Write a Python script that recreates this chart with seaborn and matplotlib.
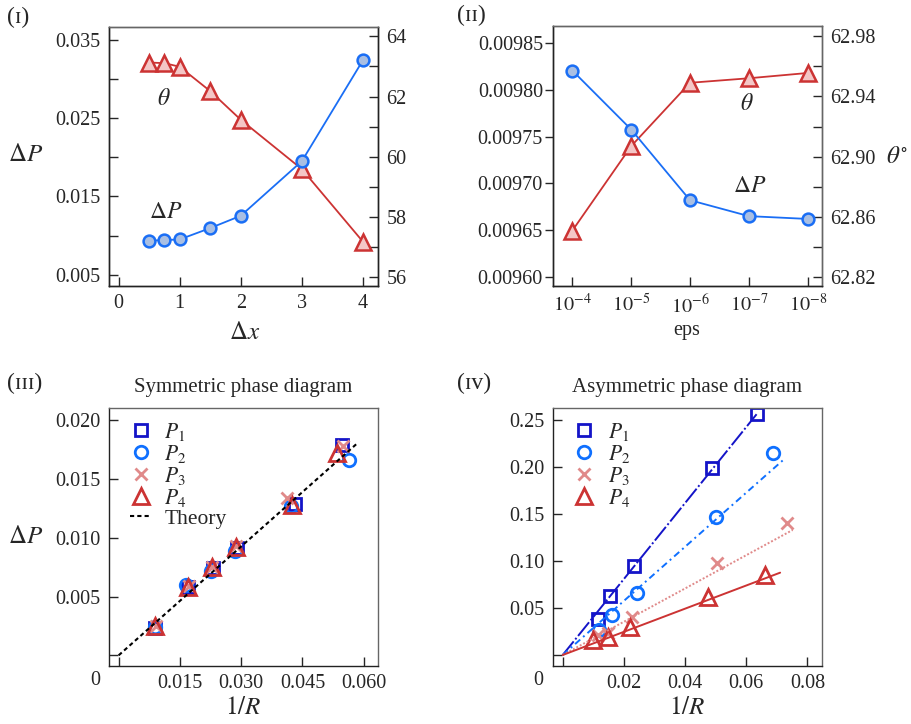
import numpy as np
import matplotlib
matplotlib.use('Agg')
import matplotlib.pyplot as plt
from matplotlib.ticker import FixedLocator, NullLocator, FixedFormatter, FormatStrFormatter
import seaborn as sns

sns.set_style('ticks')
plt.rcParams['font.family'] = ['Liberation Serif', 'DejaVu Serif']
plt.rcParams['mathtext.fontset'] = 'stix'
plt.rcParams['axes.unicode_minus'] = True

# ---- data ----
# (I) grid spacing
dx = [0.5, 0.75, 1.0, 1.5, 2.0, 3.0, 4.0]
dp_dx = [0.00933, 0.00942, 0.00950, 0.01095, 0.01252, 0.01949, 0.03237]
theta_dx = [63.13, 63.11, 62.99, 62.18, 61.23, 59.59, 57.18]

# (II) tolerance
eps = [1e-4, 1e-5, 1e-6, 1e-7, 1e-8]
dp_eps = [0.0098205, 0.0097575, 0.009682, 0.009665, 0.009662]
theta_eps = [62.851, 62.907, 62.949, 62.952, 62.9555]
eps_labels = ['$10^{-4}$', '$10^{-5}$', '$10^{-6}$', '$10^{-7}$', '$10^{-8}$']

# (III) symmetric phase diagram
sym_x = {
    'P1': [0.0090, 0.0170, 0.0230, 0.0290, 0.0431, 0.0547],
    'P2': [0.0088, 0.0165, 0.0225, 0.0286, 0.0421, 0.0564],
    'P3': [0.0092, 0.0172, 0.0228, 0.0287, 0.0412, 0.0549],
    'P4': [0.0090, 0.0170, 0.0228, 0.0287, 0.0425, 0.0535],
}
sym_y = {
    'P1': [0.0023, 0.0058, 0.0074, 0.0091, 0.0129, 0.0179],
    'P2': [0.0024, 0.0060, 0.0072, 0.0089, 0.0127, 0.0166],
    'P3': [0.0025, 0.0059, 0.0075, 0.0093, 0.0134, 0.0178],
    'P4': [0.0025, 0.0058, 0.0075, 0.0092, 0.0128, 0.0172],
}
theory_x = [0.0, 0.0586]
theory_y = [0.0, 0.0181]

# (IV) asymmetric phase diagram
asym_x = {
    'P1': [0.01145, 0.01548, 0.02322, 0.04873, 0.06344],
    'P2': [0.01198, 0.01603, 0.02420, 0.05013, 0.06887],
    'P3': [0.01166, 0.01493, 0.02257, 0.05035, 0.07325],
    'P4': [0.01002, 0.01493, 0.02200, 0.04762, 0.06615],
}
asym_y = {
    'P1': [0.0380, 0.0628, 0.0950, 0.1986, 0.2564],
    'P2': [0.0266, 0.0426, 0.0656, 0.1465, 0.2145],
    'P3': [0.0213, 0.0231, 0.0407, 0.0975, 0.1401],
    'P4': [0.0160, 0.0195, 0.0301, 0.0620, 0.0851],
}
fit_slope = {'P1': 4.04, 'P2': 2.877, 'P3': 1.769, 'P4': 1.232}
fit_end = {'P1': 0.0634, 'P2': 0.0727, 'P3': 0.0752, 'P4': 0.0711}

series = ['P1', 'P2', 'P3', 'P4']
labels = {'P1': '$P_1$', 'P2': '$P_2$', 'P3': '$P_3$', 'P4': '$P_4$'}

# ---- styles ----
blue, blue_face = '#1a6ef5', '#a9bfe3'
red, red_face = '#cc3333', '#f4c6c6'
pcol = {'P1': '#1414c8', 'P2': '#0f70ff', 'P3': '#e08a8a', 'P4': '#cc3333'}
pmark = {'P1': 's', 'P2': 'o', 'P3': 'x', 'P4': '^'}
psize = {'P1': 8, 'P2': 9, 'P3': 9, 'P4': 11}
fit_ls = {'P1': (0, (9, 1.3, 1, 1.3)), 'P2': (0, (3.5, 2, 1, 2)),
          'P3': (0, (1, 1)), 'P4': '-'}
TS = 14.5
LS = 18
spine_dark, spine_light = '#222222', '#666666'


def style_spines(ax, light=('top', 'right')):
    for s in ax.spines:
        ax.spines[s].set_color(spine_light if s in light else spine_dark)
        ax.spines[s].set_linewidth(1.0)


def place_xlabel(ax, x, y):
    ax.xaxis.set_label_coords(x, y)
    ax.xaxis.label.set_va('center')


fig = plt.figure(figsize=(9.11, 7.24), dpi=100)

# ================= (I) =================
ax1 = fig.add_axes([0.1196, 0.605, 0.2953, 0.3577])
ax1r = ax1.twinx()
sns.lineplot(x=dx, y=theta_dx, ax=ax1r, color=red, marker='^', markersize=11,
             markerfacecolor=red_face, markeredgecolor=red, markeredgewidth=1.8,
             linewidth=1.3, sort=False)
sns.lineplot(x=dx, y=dp_dx, ax=ax1, color=blue, marker='o', markersize=8.5,
             markerfacecolor=blue_face, markeredgecolor=blue, markeredgewidth=1.8,
             linewidth=1.3, sort=False)
ax1.set_zorder(ax1r.get_zorder() + 1)
ax1.patch.set_visible(False)
ax1.set_xlim(-0.158, 4.246)
ax1.set_ylim(0.00356, 0.03661)
ax1r.set_ylim(55.71, 64.31)
ax1.xaxis.set_major_locator(FixedLocator([0, 1, 2, 3, 4]))
ax1.yaxis.set_major_locator(FixedLocator([0.005, 0.015, 0.025, 0.035]))
ax1.yaxis.set_minor_locator(FixedLocator([0.010, 0.020, 0.030]))
ax1.yaxis.set_major_formatter(FormatStrFormatter('%.3f'))
ax1r.yaxis.set_major_locator(FixedLocator([56, 58, 60, 62, 64]))
ax1r.yaxis.set_minor_locator(FixedLocator([57, 59, 61, 63]))
ax1.xaxis.set_minor_locator(NullLocator())
ax1.tick_params(which='both', direction='in', length=6.5, width=1, labelsize=TS,
                top=False, right=False, pad=6)
ax1r.tick_params(which='both', direction='in', length=6.5, width=1, labelsize=TS,
                 left=False, pad=6)
ax1.set_xlabel(r'$\Delta x$', fontsize=LS)
place_xlabel(ax1, 0.506, -0.181)
ax1.set_ylabel(r'$\Delta P$', fontsize=LS, rotation=0, ha='center', va='center')
ax1.yaxis.set_label_coords(-0.31, 0.506)
ax1r.set_ylabel('')
ax1.text(0.204, 0.722, r'$\theta$', transform=ax1.transAxes, fontsize=17,
         ha='center', va='center')
ax1.text(0.211, 0.282, r'$\Delta P$', transform=ax1.transAxes, fontsize=17,
         ha='center', va='center')
style_spines(ax1, light=('top',))
style_spines(ax1r, light=('top',))

# ================= (II) =================
ax2 = fig.add_axes([0.6074, 0.605, 0.2946, 0.359])
ax2r = ax2.twinx()
sns.lineplot(x=eps, y=theta_eps, ax=ax2r, color=red, marker='^', markersize=11,
             markerfacecolor=red_face, markeredgecolor=red, markeredgewidth=1.8,
             linewidth=1.3, sort=False)
sns.lineplot(x=eps, y=dp_eps, ax=ax2, color=blue, marker='o', markersize=8.5,
             markerfacecolor=blue_face, markeredgecolor=blue, markeredgewidth=1.8,
             linewidth=1.3, sort=False)
ax2.set_zorder(ax2r.get_zorder() + 1)
ax2.patch.set_visible(False)
ax2.set_xscale('log')
ax2.set_xlim(10 ** -3.677, 10 ** -8.238)
ax2.xaxis.set_major_locator(FixedLocator(eps))
ax2.xaxis.set_major_formatter(FixedFormatter(eps_labels))
ax2.xaxis.set_minor_locator(NullLocator())
ax2.set_ylim(0.0095904, 0.009868)
ax2r.set_ylim(62.8143, 62.9866)
ax2.yaxis.set_major_locator(FixedLocator([0.0096, 0.00965, 0.0097, 0.00975, 0.0098, 0.00985]))
ax2.yaxis.set_major_formatter(FormatStrFormatter('%.5f'))
ax2r.yaxis.set_major_locator(FixedLocator([62.82, 62.86, 62.90, 62.94, 62.98]))
ax2r.yaxis.set_minor_locator(FixedLocator([62.84, 62.88, 62.92, 62.96]))
ax2r.yaxis.set_major_formatter(FormatStrFormatter('%.2f'))
ax2.tick_params(axis='y', which='both', direction='out', length=6, width=1,
                labelsize=TS, right=False, pad=1.5)
ax2.tick_params(axis='x', which='both', direction='in', length=6.5, width=1,
                labelsize=TS, top=False, pad=6)
ax2r.tick_params(which='both', direction='in', length=6.5, width=1, labelsize=TS,
                 left=False, pad=6)
ax2.set_xlabel('eps', fontsize=TS)
place_xlabel(ax2, 0.498, -0.17)
ax2.set_ylabel('')
ax2r.set_ylabel(r'$\theta^{\circ}$', fontsize=LS, rotation=0, ha='center', va='center')
ax2r.yaxis.set_label_coords(1.28, 0.496)
ax2.text(0.722, 0.70, r'$\theta$', transform=ax2.transAxes, fontsize=17,
         ha='center', va='center')
ax2.text(0.732, 0.381, r'$\Delta P$', transform=ax2.transAxes, fontsize=17,
         ha='center', va='center')
style_spines(ax2)
style_spines(ax2r)


# ================= (III) & (IV) =================
def scatter_series(ax, xs, ys, key, with_label=True):
    kw = dict(color=pcol[key], marker=pmark[key], markersize=psize[key],
              linestyle='', sort=False, estimator=None)
    if pmark[key] == 'x':
        kw.update(markeredgecolor=pcol[key], markeredgewidth=2.0)
    else:
        kw.update(markerfacecolor='none', markeredgecolor=pcol[key],
                  markeredgewidth=2.0)
    sns.lineplot(x=xs, y=ys, ax=ax, label=labels[key] if with_label else None, **kw)


def finish_phase(ax, xt, xfmt, yt, yfmt, title):
    ax.xaxis.set_major_locator(FixedLocator(xt))
    ax.xaxis.set_major_formatter(FixedFormatter([''] + [xfmt % v for v in xt[1:]]))
    ax.yaxis.set_major_locator(FixedLocator(yt))
    ax.yaxis.set_major_formatter(FixedFormatter([''] + [yfmt % v for v in yt[1:]]))
    ax.tick_params(which='both', direction='in', length=6.5, width=1, labelsize=TS,
                   top=False, right=False, pad=6)
    ax.text(-0.052, -0.057, '0', transform=ax.transAxes, fontsize=TS,
            ha='center', va='center')
    ax.set_xlabel(r'$1/R$', fontsize=LS)
    place_xlabel(ax, 0.5, -0.163)
    ax.set_title(title, fontsize=15, pad=11)
    style_spines(ax)


legend_kw = dict(loc='upper left', bbox_to_anchor=(0.078, 0.95), frameon=False,
                 fontsize=15.5, handlelength=1.0, handletextpad=0.6,
                 labelspacing=0.0, borderaxespad=0.0, borderpad=0.0)

ax3 = fig.add_axes([0.1196, 0.0801, 0.2953, 0.3568])
for key in series:
    scatter_series(ax3, sym_x[key], sym_y[key], key)
sns.lineplot(x=theory_x, y=theory_y, ax=ax3, color='k', linewidth=1.5,
             linestyle=(0, (2, 1.5)), label='Theory', sort=False)
ax3.set_xlim(-0.00237, 0.0635)
ax3.set_ylim(-0.000908, 0.02108)
finish_phase(ax3, [0, 0.015, 0.03, 0.045, 0.06], '%.3f',
             [0, 0.005, 0.01, 0.015, 0.02], '%.3f', 'Symmetric phase diagram')
ax3.set_ylabel(r'$\Delta P$', fontsize=LS, rotation=0, ha='center', va='center')
ax3.yaxis.set_label_coords(-0.31, 0.5)
ax3.legend(**legend_kw)

ax4 = fig.add_axes([0.6067, 0.0801, 0.2953, 0.3568])
for key in series:
    scatter_series(ax4, asym_x[key], asym_y[key], key)
for key in series:
    sns.lineplot(x=[0.0, fit_end[key]], y=[0.0, fit_slope[key] * fit_end[key]],
                 ax=ax4, color=pcol[key], linewidth=1.4, linestyle=fit_ls[key],
                 sort=False)
ax4.set_xlim(-0.00327, 0.0847)
ax4.set_ylim(-0.0117, 0.2631)
finish_phase(ax4, [0, 0.02, 0.04, 0.06, 0.08], '%.2f',
             [0, 0.05, 0.10, 0.15, 0.20, 0.25], '%.2f', 'Asymmetric phase diagram')
ax4.set_ylabel('')
ax4.legend(**legend_kw)

# panel tags
tag_kw = dict(fontsize=17, ha='left', va='center')
fig.text(0.008, 0.976, '(ɪ)', **tag_kw)
fig.text(0.502, 0.978, '(ɪɪ)', **tag_kw)
fig.text(0.008, 0.471, '(ɪɪɪ)', **tag_kw)
fig.text(0.502, 0.471, '(ɪᴠ)', **tag_kw)

fig.savefig('out.png', dpi=100)
